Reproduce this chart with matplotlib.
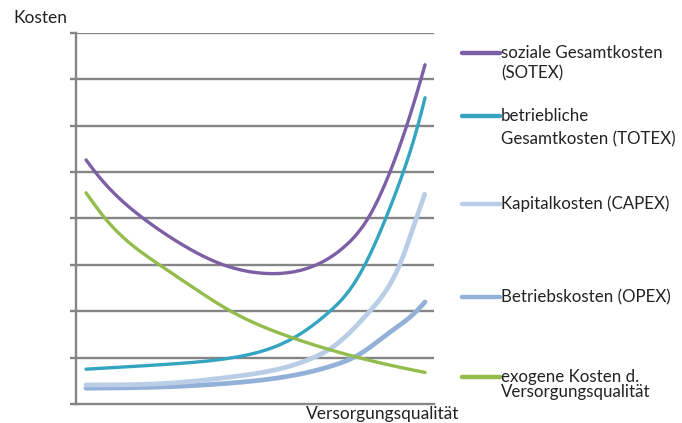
import matplotlib
matplotlib.use("Agg")
import matplotlib.pyplot as plt
import numpy as np
from matplotlib.lines import Line2D

plt.rcParams['font.family'] = ['Lato', 'DejaVu Sans']

# Versorgungsqualität (x, arbitrary units) and costs (y, arbitrary units)
sotex_x = [0.28, 0.53, 1.88, 2.91, 4.11, 4.86, 5.59, 6.72, 7.51, 8.16, 8.77, 9.24, 9.64, 9.75]
sotex_y = [5.26, 5.00, 4.00, 3.46, 3.00, 2.85, 2.81, 3.00, 3.40, 4.00, 5.00, 6.00, 7.00, 7.31]

totex_x = [0.28, 2.63, 4.39, 6.07, 7.09, 7.65, 8.07, 8.65, 9.14, 9.56, 9.75]
totex_y = [0.75, 0.86, 1.00, 1.42, 2.00, 2.46, 3.00, 4.00, 5.00, 6.00, 6.60]

capex_x = [0.28, 2.63, 4.30, 6.63, 7.18, 8.20, 9.05, 9.50, 9.74]
capex_y = [0.41, 0.45, 0.58, 1.00, 1.23, 2.00, 3.00, 4.00, 4.52]

opex_x = [0.28, 2.54, 4.30, 6.16, 7.18, 7.75, 8.12, 8.68, 9.52, 9.75]
opex_y = [0.34, 0.37, 0.45, 0.63, 0.83, 1.00, 1.17, 1.50, 2.00, 2.20]

exogen_x = [0.28, 0.81, 2.33, 3.37, 4.30, 6.07, 7.89, 9.05, 9.75]
exogen_y = [4.55, 4.00, 3.00, 2.46, 2.01, 1.42, 1.00, 0.79, 0.68]

series = [
    ("soziale Gesamtkosten\n(SOTEX)", sotex_x, sotex_y, "#7D5FA6", 2.4),
    ("betriebliche\nGesamtkosten (TOTEX)", totex_x, totex_y, "#33A5C0", 2.4),
    ("Kapitalkosten (CAPEX)", capex_x, capex_y, "#B9CDE6", 3.4),
    ("Betriebskosten (OPEX)", opex_x, opex_y, "#93B1D8", 3.4),
    ("exogene Kosten d.\nVersorgungsqualität", exogen_x, exogen_y, "#94BC4C", 2.4),
]

W, H = 682, 423
fig = plt.figure(figsize=(W / 100, H / 100), dpi=100)


def fx(px):
    return px / W


def fy(py):
    return 1 - py / H


def smoothed_line(xs, ys, lam=2e-3, n=400):
    """Smooth line through the points (penalised least squares on a fine grid)."""
    x = np.asarray(xs, float)
    y = np.asarray(ys, float)
    g = np.linspace(x[0], x[-1], n)
    dx = g[1] - g[0]
    B = np.zeros((len(x), n))
    for k, xi in enumerate(x):
        j = min(int((xi - g[0]) / dx), n - 2)
        t = (xi - g[j]) / dx
        B[k, j] = 1 - t
        B[k, j + 1] = t
    # keep the end points pinned
    w = np.ones(len(x))
    w[0] = w[-1] = 20.0
    Wm = np.diag(w)
    D = np.zeros((n - 2, n))
    for i in range(n - 2):
        D[i, i:i + 3] = [1.0, -2.0, 1.0]
    D /= dx ** 2
    A = B.T @ Wm @ B + lam * dx * D.T @ D
    f = np.linalg.solve(A, B.T @ Wm @ y)
    return g, f


ax = fig.add_axes([fx(76), fy(404), fx(434) - fx(76), fy(32.7) - fy(404)])
ax.set_xlim(0, 10)
ax.set_ylim(0, 8)

grid_col = "#858585"
for v in range(1, 9):
    ax.axhline(v, color=grid_col, lw=1.7, zorder=1)

for side in ("top", "right"):
    ax.spines[side].set_visible(False)
for side in ("left", "bottom"):
    ax.spines[side].set_color(grid_col)
    ax.spines[side].set_linewidth(1.7)

ax.set_xticks([])
ax.set_yticks(range(0, 9))
ax.set_yticklabels([])
ax.tick_params(axis="y", length=4, width=1.7, color=grid_col, direction="out")

# lighter curves underneath
for label, xs, ys, col, lw in [series[3], series[2], series[1], series[4], series[0]]:
    gx, gy = smoothed_line(xs, ys)
    ax.plot(gx, gy, color=col, lw=lw, solid_capstyle="round",
            solid_joinstyle="round", zorder=3)

txt_col = "#222222"
fig.text(fx(13), fy(18), "Kosten", fontsize=12.5, color=txt_col,
         ha="left", va="center")
fig.text(fx(459), fy(414), "Versorgungsqualität", fontsize=12.5,
         color=txt_col, ha="right", va="center")

# legend drawn by hand
legend_rows = [
    (53, ["soziale Gesamtkosten", "(SOTEX)"], 20),
    (116, ["betriebliche", "Gesamtkosten (TOTEX)"], 23),
    (204, ["Kapitalkosten (CAPEX)"], 0),
    (297, ["Betriebskosten (OPEX)"], 0),
    (377, ["exogene Kosten d.", "Versorgungsqualität"], 15),
]
for (py, lines, step), (label, xs, ys, col, lw) in zip(legend_rows, series):
    fig.add_artist(Line2D([fx(462), fx(500)], [fy(py), fy(py)],
                          transform=fig.transFigure, color=col, lw=3.2,
                          solid_capstyle="round"))
    for i, t in enumerate(lines):
        fig.text(fx(501), fy(py + i * step), t, fontsize=12.2,
                 color=txt_col, ha="left", va="center")

fig.savefig("out.png", dpi=100)
